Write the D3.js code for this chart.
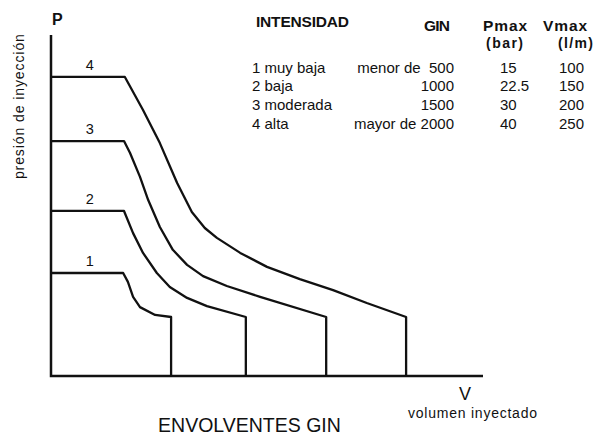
<!DOCTYPE html>
<html>
<head>
<meta charset="utf-8">
<script src="https://cdn.jsdelivr.net/npm/d3@7"></script>
<style>
  body { margin: 0; background: #fff; }
  text { font-family: Arial, "Liberation Sans", sans-serif; fill: #111; }
</style>
</head>
<body>
<div id="chart"></div>
<script>
// envelope curves: [volumen, presión] in axis units (0-100)
var envelope1 = [[0, 30.2], [16.7, 30.2], [17.8, 27.6], [19.0, 23.2], [20.6, 20.2], [24.1, 17.9], [27.8, 17.3], [27.8, 0]];
var envelope2 = [[0, 48.4], [16.9, 48.4], [19.0, 41.9], [21.3, 36.1], [24.5, 30.2], [27.5, 26.1], [31.5, 22.9], [36.1, 20.5], [45.1, 17.3], [45.1, 0]];
var envelope3 = [[0, 68.9], [16.9, 68.9], [18.3, 65.4], [20.6, 58.4], [22.5, 51.6], [25.2, 43.7], [28.2, 37.0], [31.5, 32.6], [35.2, 29.3], [40.7, 26.4], [48.4, 23.2], [63.7, 17.3], [63.7, 0]];
var envelope4 = [[0, 87.7], [17.1, 87.7], [21.3, 78.0], [25.2, 68.3], [29.2, 56.6], [32.6, 48.1], [35.6, 43.4], [38.4, 40.5], [43.8, 36.1], [50.0, 32.0], [57.6, 28.4], [65.3, 25.2], [73.1, 21.4], [82.2, 17.3], [82.2, 0]];
var envelopes = [envelope1, envelope2, envelope3, envelope4];
var levels = ["1", "2", "3", "4"];
var labelAt = 9; // volumen where the level number sits

// table
var headers = ["INTENSIDAD", "GIN", "Pmax", "Vmax"];
var units = ["(bar)", "(l/m)"];
var intensidad = ["1 muy baja", "2 baja", "3 moderada", "4 alta"];
var gin = ["menor de  500", "1000", "1500", "mayor de 2000"];
var pmax = ["15", "22.5", "30", "40"];
var vmax = ["100", "150", "200", "250"];

var width = 601, height = 436;

var svg = d3.select("#chart").append("svg")
    .attr("width", width)
    .attr("height", height);

svg.append("rect").attr("width", width).attr("height", height).attr("fill", "#fff");

var x = d3.scaleLinear().domain([0, 100]).range([51, 483]);
var y = d3.scaleLinear().domain([0, 100]).range([376, 35]);

var line = d3.line()
    .x(function(d) { return x(d[0]); })
    .y(function(d) { return y(d[1]); });

// axes
svg.append("path")
    .attr("d", line([[0, 100], [0, 0], [100, 0]]))
    .attr("fill", "none")
    .attr("stroke", "#111")
    .attr("stroke-width", 2.5);

// envelopes
svg.selectAll(".env").data(envelopes)
  .enter().append("path")
    .attr("class", "env")
    .attr("d", line)
    .attr("fill", "none")
    .attr("stroke", "#111")
    .attr("stroke-width", 2.3)
    .attr("stroke-linejoin", "round");

// level numbers above each plateau
svg.selectAll(".lvl").data(envelopes)
  .enter().append("text")
    .attr("class", "lvl")
    .attr("x", x(labelAt))
    .attr("y", function(d) { return y(d[0][1]) - 7; })
    .attr("text-anchor", "middle")
    .style("font-size", "14.5px")
    .text(function(d, i) { return levels[i]; });

// axis names
svg.append("text")
    .attr("x", 52).attr("y", 25)
    .style("font-size", "16px").style("font-weight", "bold")
    .text("P");

svg.append("text")
    .attr("transform", "translate(24," + y(79) + ") rotate(-90)")
    .attr("text-anchor", "middle")
    .attr("textLength", 145)
    .style("font-size", "14px")
    .text("presión de inyección");

svg.append("text")
    .attr("x", 465).attr("y", 400)
    .attr("text-anchor", "middle")
    .style("font-size", "18px")
    .text("V");

svg.append("text")
    .attr("x", 408).attr("y", 418)
    .attr("textLength", 129)
    .style("font-size", "14px")
    .text("volumen inyectado");

svg.append("text")
    .attr("x", 249.5).attr("y", 432)
    .attr("text-anchor", "middle")
    .style("font-size", "19.5px")
    .text("ENVOLVENTES GIN");

// table header
var headX = [256, 424, 483, 543], headY = [27, 31, 31, 31], headW = [93, 26, 44, 44];
svg.selectAll(".head").data(headers)
  .enter().append("text")
    .attr("class", "head")
    .attr("x", function(d, i) { return headX[i]; })
    .attr("y", function(d, i) { return headY[i]; })
    .attr("textLength", function(d, i) { return headW[i]; })
    .style("font-size", "15.5px").style("font-weight", "bold")
    .text(function(d) { return d; });

var unitX = [486, 558], unitW = [37, 35];
svg.selectAll(".unit").data(units)
  .enter().append("text")
    .attr("class", "unit")
    .attr("x", function(d, i) { return unitX[i]; })
    .attr("y", 48)
    .attr("textLength", function(d, i) { return unitW[i]; })
    .style("font-size", "14px").style("font-weight", "bold")
    .text(function(d) { return d; });

// table rows
var rowY = function(i) { return 72.5 + i * 18.8; };
var rows = svg.selectAll(".row").data(intensidad)
  .enter().append("g").attr("class", "row")
    .style("font-size", "15px");

rows.append("text")
    .attr("x", 252).attr("y", function(d, i) { return rowY(i); })
    .text(function(d) { return d; });

rows.append("text")
    .attr("x", 454).attr("y", function(d, i) { return rowY(i); })
    .attr("text-anchor", "end")
    .style("white-space", "pre")
    .text(function(d, i) { return gin[i]; });

rows.append("text")
    .attr("x", 500).attr("y", function(d, i) { return rowY(i); })
    .text(function(d, i) { return pmax[i]; });

rows.append("text")
    .attr("x", 559).attr("y", function(d, i) { return rowY(i); })
    .text(function(d, i) { return vmax[i]; });
</script>
</body>
</html>
